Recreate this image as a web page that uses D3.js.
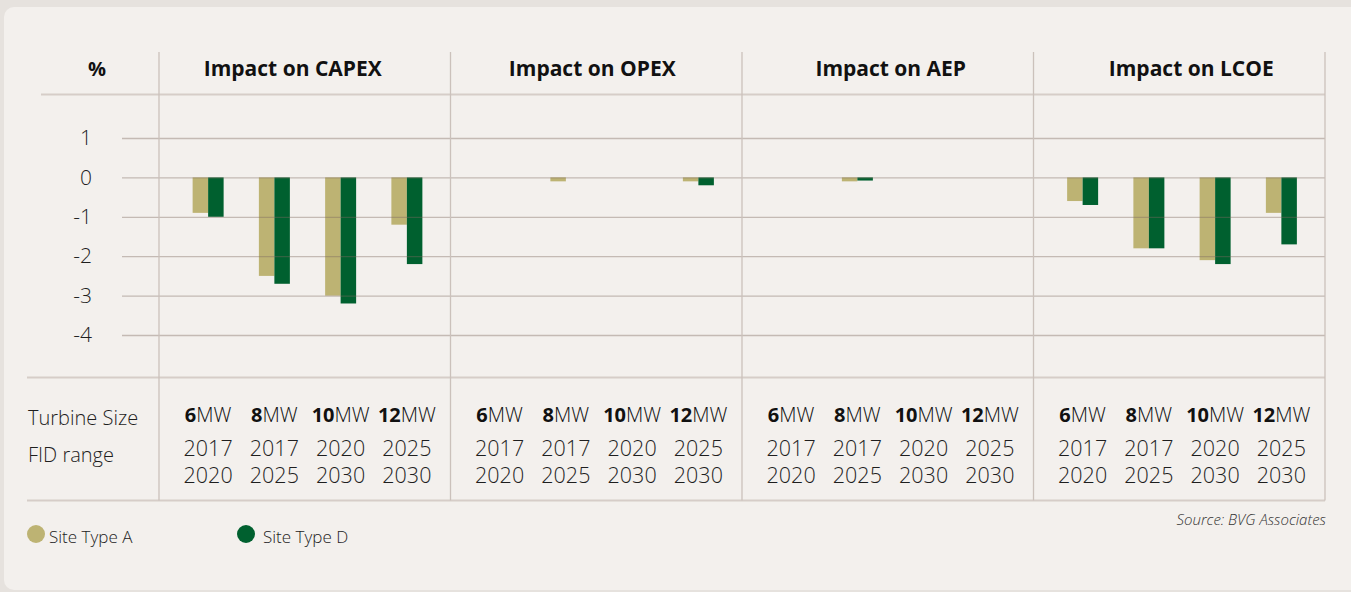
<!DOCTYPE html>
<html>
<head>
<meta charset="utf-8">
<script src="https://cdn.jsdelivr.net/npm/d3@7"></script>
<style>
  html, body { margin: 0; padding: 0; background: #e6e2de; }
  svg { display: block; font-family: "Open Sans", sans-serif; }
</style>
</head>
<body>
<svg id="chart" width="1351" height="592"></svg>
<script>
const panels = ['Impact on CAPEX', 'Impact on OPEX', 'Impact on AEP', 'Impact on LCOE'];
const turbineSizes = ['6', '8', '10', '12'];
const fidStart = ['2017', '2017', '2020', '2025'];
const fidEnd = ['2020', '2025', '2030', '2030'];
const seriesNames = ['Site Type A', 'Site Type D'];
// one row per panel, one value per turbine size
const siteA = [
  [-0.9, -2.5, -3.0, -1.2],
  [0, -0.1, 0, -0.1],
  [0, -0.1, 0, 0],
  [-0.6, -1.8, -2.1, -0.9]
];
const siteD = [
  [-1.0, -2.7, -3.2, -2.2],
  [0, 0, 0, -0.2],
  [0, -0.08, 0, 0],
  [-0.7, -1.8, -2.2, -1.7]
];
const yTicks = [1, 0, -1, -2, -3, -4];

const colors = { 'Site Type A': '#bdb373', 'Site Type D': '#00602f' };
const gridColor = '#cbc1bb';
// titles in the original sit a little off the panel centres
const titleShift = [-12, -4, 3, 12];

const svg = d3.select('#chart');

// card background
svg.append('rect').attr('x', 4).attr('y', 7).attr('width', 1360).attr('height', 583)
  .attr('rx', 10).attr('fill', '#f3f0ed');

const left = 159, right = 1325;
const xPanel = d3.scaleBand().domain(panels).range([left, right]);
const xGroup = d3.scaleBand().domain(turbineSizes).range([16, 281]);
const xSeries = d3.scaleBand().domain(seriesNames)
  .range([xGroup.bandwidth() / 2 - 15.5, xGroup.bandwidth() / 2 + 15.5]);
const y = d3.scaleLinear().domain([-4, 1]).range([335, 138]);

const headerY = 94.5, rowY = 377.5, bottomY = 500.5;

// bars
panels.forEach((p, i) => {
  const g = svg.append('g').attr('transform', `translate(${xPanel(p)},0)`);
  const rows = turbineSizes.map((t, j) => ({ t, vals: [siteA[i][j], siteD[i][j]] }));
  const grp = g.selectAll('g.grp').data(rows).join('g')
    .attr('transform', d => `translate(${xGroup(d.t)},0)`);
  grp.selectAll('rect').data(d => d.vals.map((v, k) => ({ s: seriesNames[k], v })))
    .join('rect')
    .attr('x', d => xSeries(d.s))
    .attr('width', xSeries.bandwidth())
    .attr('y', d => y(Math.max(0, d.v)))
    .attr('height', d => Math.abs(y(d.v) - y(0)))
    .attr('fill', d => colors[d.s]);
});

// gridlines + tick labels (drawn over bars like the original)
const yAxis = svg.append('g').attr('transform', 'translate(122,0)')
  .call(d3.axisLeft(y).tickValues(yTicks).tickSize(-(right - 122)).tickPadding(30)
    .tickFormat(d => d < 0 ? '-' + Math.abs(d) : String(d)));
yAxis.select('.domain').remove();
yAxis.selectAll('.tick line').attr('stroke', '#7d6a60').attr('stroke-opacity', 0.4).attr('stroke-width', 1.3);
yAxis.selectAll('.tick text').attr('fill', '#1e1e1e').style('font-size', '21px')
  .style('font-weight', 300).style('font-family', '"Open Sans", sans-serif');

// frame lines
const lines = svg.append('g').attr('stroke', gridColor);
lines.append('line').attr('x1', 41).attr('x2', right).attr('y1', headerY).attr('y2', headerY).attr('stroke-width', 2).attr('stroke', '#d6cdc8');
lines.append('line').attr('x1', 27).attr('x2', right).attr('y1', rowY).attr('y2', rowY).attr('stroke-width', 2).attr('stroke', '#d6cdc8');
lines.append('line').attr('x1', 27).attr('x2', right).attr('y1', bottomY).attr('y2', bottomY).attr('stroke-width', 2).attr('stroke', '#d6cdc8');
[...panels.map(p => xPanel(p)), right].forEach(x => {
  lines.append('line').attr('x1', x).attr('x2', x).attr('y1', 52).attr('y2', bottomY)
    .attr('stroke-width', 1.3);
});

// header
svg.append('text').attr('x', 97).attr('y', 76).attr('text-anchor', 'middle')
  .style('font-size', '20px').style('font-weight', 700).attr('fill', '#111').text('%');
svg.selectAll('text.title').data(panels).join('text')
  .attr('class', 'title')
  .attr('x', (d, i) => xPanel(d) + xPanel.bandwidth() / 2 + titleShift[i])
  .attr('y', 76).attr('text-anchor', 'middle')
  .style('font-size', '21px').style('font-weight', 700).attr('fill', '#111')
  .text(d => d);

// row labels
svg.append('text').attr('x', 28).attr('y', 425).style('font-size', '20px').style('font-weight', 300)
  .attr('fill', '#1e1e1e').text('Turbine Size');
svg.append('text').attr('x', 28).attr('y', 462).style('font-size', '20px').style('font-weight', 300)
  .attr('fill', '#1e1e1e').text('FID range');

// category labels under each panel
panels.forEach(p => {
  const g = svg.append('g').attr('transform', `translate(${xPanel(p)},0)`);
  const cx = t => xGroup(t) + xGroup.bandwidth() / 2;
  const mw = g.selectAll('text.mw').data(turbineSizes).join('text')
    .attr('class', 'mw').attr('x', cx).attr('y', 422).attr('text-anchor', 'middle')
    .style('font-size', '20px').attr('fill', '#111');
  mw.append('tspan').style('font-weight', 700).text(d => d);
  mw.append('tspan').style('font-weight', 300).text('MW');
  g.selectAll('text.fid1').data(turbineSizes).join('text')
    .attr('class', 'fid1').attr('x', cx).attr('y', 456).attr('text-anchor', 'middle')
    .style('font-size', '21.5px').style('font-weight', 300).attr('fill', '#1e1e1e')
    .text((d, i) => fidStart[i]);
  g.selectAll('text.fid2').data(turbineSizes).join('text')
    .attr('class', 'fid2').attr('x', cx).attr('y', 483).attr('text-anchor', 'middle')
    .style('font-size', '21.5px').style('font-weight', 300).attr('fill', '#1e1e1e')
    .text((d, i) => fidEnd[i]);
});

// legend
const legendX = [36, 246];
const lg = svg.selectAll('g.legend').data(seriesNames).join('g')
  .attr('class', 'legend')
  .attr('transform', (d, i) => `translate(${legendX[i]},534)`);
lg.append('circle').attr('r', 9).attr('fill', d => colors[d]);
lg.append('text').attr('x', (d, i) => i === 0 ? 13 : 17).attr('y', 9)
  .style('font-size', '17px').style('font-weight', 300).attr('fill', '#222').text(d => d);

// source
svg.append('text').attr('x', 1326).attr('y', 525).attr('text-anchor', 'end')
  .style('font-size', '15px').style('font-style', 'italic').style('font-weight', 300)
  .attr('fill', '#333').text('Source: BVG Associates');
</script>
</body>
</html>
